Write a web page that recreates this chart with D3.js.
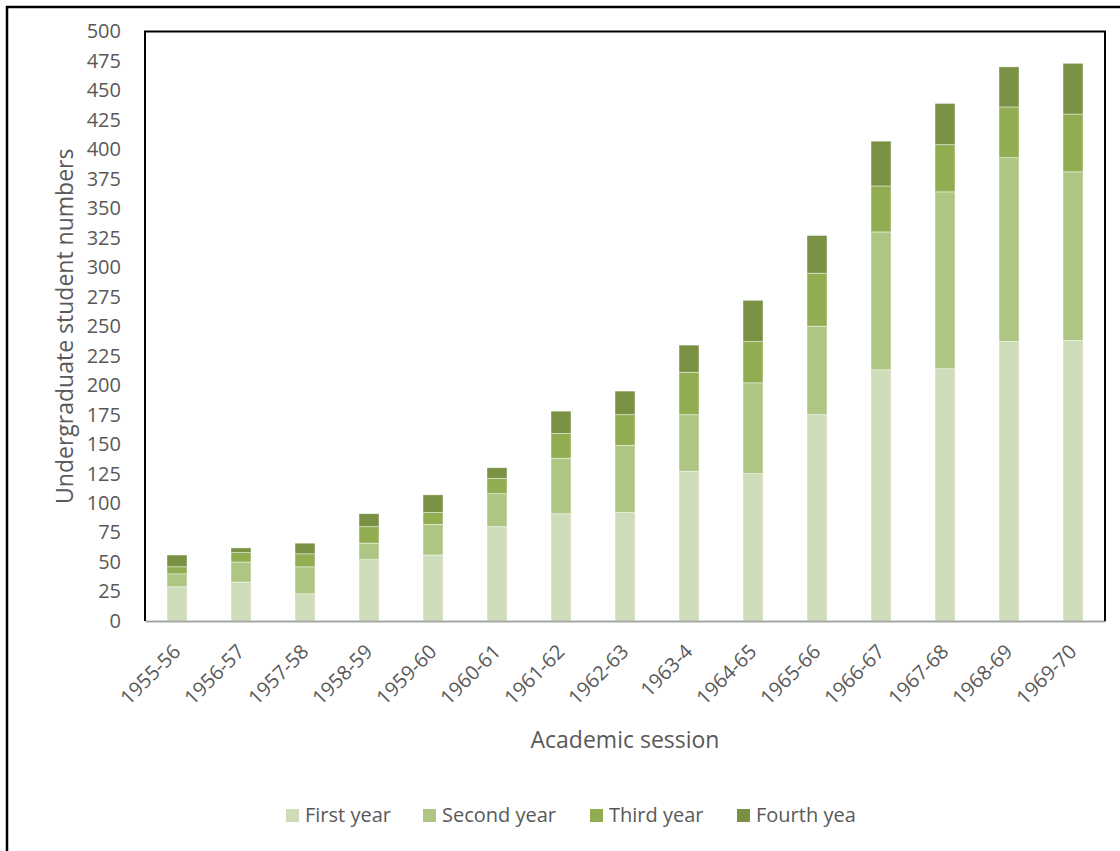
<!DOCTYPE html>
<html>
<head>
<meta charset="utf-8">
<script src="https://cdn.jsdelivr.net/npm/d3@7"></script>
<style>
  html, body { margin: 0; padding: 0; background: #fff; }
  svg { display: block; }
  text { font-family: "Open Sans", Lato, sans-serif; fill: #595959; }
</style>
</head>
<body>
<svg id="chart" width="1120" height="851"></svg>
<script>
const sessions = ["1955-56","1956-57","1957-58","1958-59","1959-60","1960-61","1961-62","1962-63","1963-4","1964-65","1965-66","1966-67","1967-68","1968-69","1969-70"];
const firstYear  = [29, 33, 23, 52, 56, 80, 91, 92, 127, 125, 175, 213, 214, 237, 238];
const secondYear = [11, 17, 23, 14, 26, 28, 47, 57, 48, 77, 75, 117, 150, 156, 143];
const thirdYear  = [6, 8, 11, 14, 10, 13, 21, 26, 36, 35, 45, 39, 40, 43, 49];
const fourthYear = [10, 4, 9, 11, 15, 9, 19, 20, 23, 35, 32, 38, 35, 34, 43];
const seriesNames = ["First year", "Second year", "Third year", "Fourth yea"];
const seriesKeys = ["first", "second", "third", "fourth"];
const colors = ["#cfdcb9", "#aec684", "#91ad52", "#7a9042"];
const yTicks = d3.range(0, 501, 25);

const rows = sessions.map((s, i) => ({
  session: s, first: firstYear[i], second: secondYear[i], third: thirdYear[i], fourth: fourthYear[i]
}));

const FONT = "'Open Sans', Lato, sans-serif";
const svg = d3.select("#chart");
const plot = { left: 145, right: 1105, top: 31.5, bottom: 621 };

// outer frame
svg.append("rect").attr("x", 7).attr("y", 7).attr("width", 1300).attr("height", 1000)
  .attr("fill", "none").attr("stroke", "#000").attr("stroke-width", 2.5);

const x = d3.scaleBand().domain(sessions).range([plot.left, plot.right]).paddingInner(0.6875).paddingOuter(0.34375);
const y = d3.scaleLinear().domain([0, 500]).range([plot.bottom, plot.top]);

const stack = d3.stack().keys(seriesKeys)(rows);

svg.append("g").selectAll("g.series").data(stack).join("g")
  .attr("class", "series")
  .attr("fill", (d, i) => colors[i])
  .selectAll("rect").data(d => d).join("rect")
  .attr("x", d => x(d.data.session))
  .attr("width", x.bandwidth())
  .attr("y", d => y(d[1]))
  .attr("height", d => y(d[0]) - y(d[1]))
  .attr("stroke", "rgba(255,255,255,0.55)")
  .attr("stroke-width", 0.8);

// y axis labels
const yAxis = d3.axisLeft(y).tickValues(yTicks).tickSize(0).tickPadding(24);
const yg = svg.append("g").attr("transform", `translate(${plot.left},0)`).call(yAxis);
yg.select(".domain").remove();
yg.selectAll("text").attr("font-size", 20).attr("fill", "#595959").style("font-family", FONT);

// x axis
const xAxis = d3.axisBottom(x).tickSize(0).tickPadding(0);
const xg = svg.append("g").attr("transform", `translate(0,${plot.bottom})`).call(xAxis);
xg.select(".domain").attr("stroke", "#a6a6a6").attr("stroke-width", 2);
xg.selectAll("text")
  .attr("font-size", 20).attr("fill", "#595959")
  .style("font-family", FONT)
  .attr("text-anchor", "end")
  .attr("dy", "0.35em")
  .attr("transform", "translate(0,27) rotate(-45)")
  .attr("x", 0).attr("y", 0);

// plot frame: left, top, right
svg.append("path")
  .attr("d", `M${plot.left},${plot.bottom} V${plot.top} H${plot.right} V${plot.bottom}`)
  .attr("fill", "none").attr("stroke", "#000").attr("stroke-width", 2);

// axis titles
svg.append("text").attr("transform", `translate(73,${(plot.top + plot.bottom) / 2}) rotate(-90)`)
  .attr("text-anchor", "middle").attr("font-size", 23).text("Undergraduate student numbers");
svg.append("text").attr("x", (plot.left + plot.right) / 2).attr("y", 748)
  .attr("text-anchor", "middle").attr("font-size", 23).text("Academic session");

// legend
const legendX = [286, 423, 590, 737];
const lg = svg.append("g");
seriesNames.forEach((name, i) => {
  lg.append("rect").attr("x", legendX[i]).attr("y", 809).attr("width", 13).attr("height", 13).attr("fill", colors[i]);
  lg.append("text").attr("x", legendX[i] + 19).attr("y", 822).attr("font-size", 20).text(name);
});
</script>
</body>
</html>
